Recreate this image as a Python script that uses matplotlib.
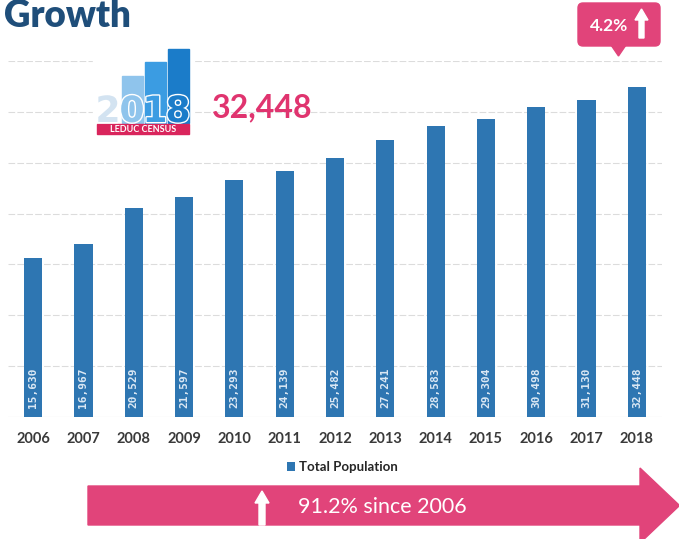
import matplotlib.pyplot as plt
import matplotlib.patheffects as pe
from matplotlib.patches import Rectangle, Polygon, FancyBboxPatch

# population counts by census year
years = ['2006', '2007', '2008', '2009', '2010', '2011', '2012',
         '2013', '2014', '2015', '2016', '2017', '2018']
population = [15630, 16967, 20529, 21597, 23293, 24139, 25482,
              27241, 28583, 29304, 30498, 31130, 32448]
grid_values = [5000, 10000, 15000, 20000, 25000, 30000, 35000]

BAR_BLUE = '#2e76b2'
PINK = '#e1447a'
W, H = 679, 539

fig = plt.figure(figsize=(W / 100, H / 100), dpi=100)
fig.patch.set_facecolor('white')

ax = fig.add_axes([8 / W, 122 / H, 654 / W, 356 / H])
x = range(len(years))
bars = ax.bar(x, population, width=0.36, color=BAR_BLUE, label='Total Population', zorder=3)

for g in grid_values:
    ax.axhline(g, color='#dcdcdc', lw=0.8, ls=(0, (6, 2)), zorder=1)
ax.axhline(0, color='#d0d0d0', lw=0.8, zorder=1)

for xi, v in zip(x, population):
    ax.text(xi, 900, f'{v:,}', rotation=90, ha='center', va='bottom', fontweight='bold',
            color='#dbe8f4', fontsize=8, family='DejaVu Sans Mono', zorder=4)

ax.set_xlim(-0.5, len(years) - 0.5)
ax.set_ylim(0, 35000)
ax.set_xticks(list(x))
ax.set_xticklabels(years, fontsize=10.5, fontweight='bold', color='#3a3a3a', family='Lato')
ax.tick_params(axis='x', length=0, pad=11)
ax.set_yticks([])
for s in ax.spines.values():
    s.set_visible(False)

leg = ax.legend(loc='center', bbox_to_anchor=(342 / W, 1 - 467 / H), bbox_transform=fig.transFigure,
                frameon=False, handlelength=0.6, handleheight=0.6, handletextpad=0.3,
                prop={'family': 'Lato', 'weight': 'bold', 'size': 9.5})
for t in leg.get_texts():
    t.set_color('#262626')

# decorations drawn in pixel space on top of the chart
ov = fig.add_axes([0, 0, 1, 1], zorder=5)
ov.set_xlim(0, W)
ov.set_ylim(H, 0)
ov.axis('off')

ov.text(4, 27, 'Growth', fontsize=26.5, fontweight='heavy', color='#1f4e7a', family='Lato', va='baseline')

# census logo
ov.add_patch(Rectangle((93, 44), 100, 92, color='white', zorder=1))
for (x0, top, c) in [(122, 76, '#8fc4ec'), (145, 62, '#3b9ce2'), (168, 49, '#1b7cc9')]:
    ov.add_patch(Rectangle((x0, top), 21, 123 - top, color=c, zorder=2))
digit_cols = ['#d3e3f1', '#8fc4ec', '#3b9ce2', '#1b7cc9']
for d, cx, c in zip('2018', [108, 132, 155, 178], digit_cols):
    ov.text(cx, 122, d, fontsize=26, fontweight='bold', family='Liberation Sans Narrow',
            color=c, ha='center', va='baseline', zorder=3,
            path_effects=[pe.withStroke(linewidth=2, foreground='white')])
ov.add_patch(Rectangle((97, 124), 92, 10, color='#d9255c', zorder=2))
ov.text(143, 129.5, 'LEDUC CENSUS', fontsize=6.5, fontweight='bold', color='white',
        family='Lato', ha='center', va='center', zorder=4)

ov.text(212, 108, '32,448', fontsize=23, fontweight='bold', color='#e0346f',
        family='Lato', va='center', ha='left')

# year-over-year badge
ov.add_patch(FancyBboxPatch((578, 3), 82, 43, boxstyle='round,pad=0,rounding_size=5',
                            color=PINK, zorder=2))
ov.add_patch(Polygon([(611, 45), (626, 45), (618.5, 56)], color=PINK, zorder=2))
ov.text(609, 26, '4.2%', fontsize=12.5, fontweight='bold', color='white',
        family='Lato', ha='center', va='center', zorder=3)
ov.add_patch(Polygon([(639, 38), (639, 20), (635, 20), (641.5, 9), (648, 20), (644, 20), (644, 38)],
                     color='white', zorder=3))

# long-term growth arrow
ov.add_patch(Polygon([(88, 486), (640, 486), (640, 468), (679, 505), (679, 506),
                      (640, 543), (640, 525), (88, 525)], color=PINK, zorder=2))
ov.add_patch(Polygon([(259, 525), (259, 503), (255, 503), (262, 491), (269, 503), (265, 503), (265, 525)],
                     color='white', zorder=3))
ov.text(382, 507, '91.2% since 2006', fontsize=15.5, color='white', family='Lato',
        ha='center', va='center', zorder=3)

fig.savefig('out.png', dpi=100)
